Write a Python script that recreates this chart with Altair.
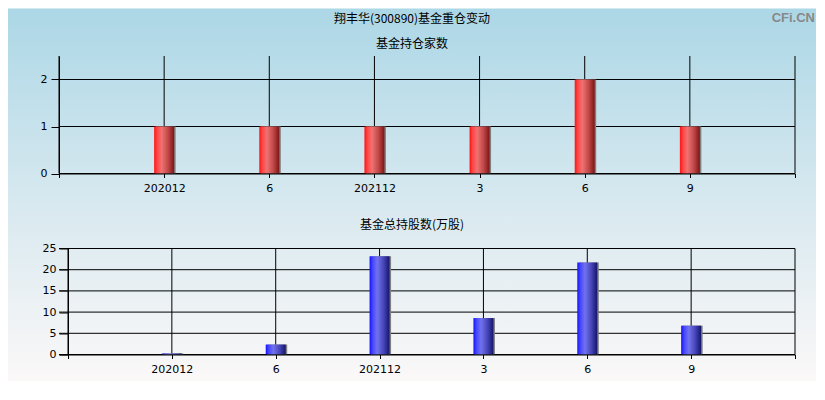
import json
import altair as alt
import pandas as pd

# ---- data ----
periods = ["202012", "6", "202112", "3", "6", "9"]
slot = [1, 2, 3, 4, 5, 6]
fund_counts = [1, 1, 1, 1, 2, 1]
fund_shares = [0.25, 2.35, 23.2, 8.6, 21.7, 6.8]
top_ticks = [0, 1, 2]
bottom_ticks = [0, 5, 10, 15, 20, 25]

main_title = "翔丰华(300890)基金重仓变动"
top_title = "基金持仓家数"
bottom_title = "基金总持股数(万股)"
watermark = "CFi.CN"

df = pd.DataFrame({"slot": slot, "period": periods,
                   "count": fund_counts, "shares": fund_shares})

label_expr = json.dumps([""] + periods + [""]) + "[datum.value]"
tick_vals = list(range(len(periods) + 2))
vgrid = pd.DataFrame({"slot": tick_vals})
hgrid_top = pd.DataFrame({"count": top_ticks})
hgrid_bot = pd.DataFrame({"shares": bottom_ticks})

W = 736
H1 = 117.5
H2 = 106
SP = 74.5
CJK = "Noto Sans CJK SC"

bg_grad = alt.Gradient(
    gradient="linear", x1=0, y1=0, x2=0, y2=1,
    stops=[alt.GradientStop(color="#acd7e6", offset=0),
           alt.GradientStop(color="#d6e8ef", offset=0.5),
           alt.GradientStop(color="#fbf8f8", offset=1)])

red_grad = alt.Gradient(
    gradient="linear", x1=0, y1=0, x2=1, y2=0,
    stops=[alt.GradientStop(color="#ff1212", offset=0),
           alt.GradientStop(color="#ff4545", offset=0.15),
           alt.GradientStop(color="#f07272", offset=0.38),
           alt.GradientStop(color="#c04848", offset=0.7),
           alt.GradientStop(color="#7e1414", offset=1)])

blue_grad = alt.Gradient(
    gradient="linear", x1=0, y1=0, x2=1, y2=0,
    stops=[alt.GradientStop(color="#1212ff", offset=0),
           alt.GradientStop(color="#4545ff", offset=0.15),
           alt.GradientStop(color="#7272ee", offset=0.38),
           alt.GradientStop(color="#4646b8", offset=0.7),
           alt.GradientStop(color="#14146e", offset=1)])

one = pd.DataFrame({"k": [0]})

# ---------------- top panel ----------------
x_top = alt.X("slot:Q",
              scale=alt.Scale(domain=[0, 7], nice=False, zero=False, padding=0),
              axis=alt.Axis(values=tick_vals, grid=False, tickSize=4,
                            labelPadding=5, labelExpr=label_expr, zindex=2,
                            labelOverlap=False, labelFlush=False, title=None))
y_top = alt.Y("count:Q",
              scale=alt.Scale(domain=[0, 2.5], nice=False, padding=0),
              axis=alt.Axis(values=top_ticks, grid=False, tickSize=8, zindex=2,
                            labelPadding=4, format="d", title=None))

bg = alt.Chart(one).mark_rect(fill=bg_grad).encode(
    x=alt.value(-51), x2=alt.value(757), y=alt.value(-47.5), y2=alt.value(325))

top_v = alt.Chart(vgrid).mark_rule(color="black", strokeWidth=1).encode(x=x_top)
top_h = alt.Chart(hgrid_top).mark_rule(color="black", strokeWidth=1).encode(y=y_top)

top_shadow = alt.Chart(df).mark_bar(width=20, xOffset=1.5, color="#7f7f7f").encode(
    x=x_top, y=y_top)
top_bars = alt.Chart(df).mark_bar(width=20, fill=red_grad).encode(
    x=x_top, y=y_top)

t_main = alt.Chart(pd.DataFrame({"t": [main_title]})).mark_text(
    font=CJK, fontSize=12, color="black", baseline="middle", align="center").encode(
    text="t:N", x=alt.value(353), y=alt.value(-37.5))
t_top = alt.Chart(pd.DataFrame({"t": [top_title]})).mark_text(
    font=CJK, fontSize=12, color="black", baseline="middle", align="center").encode(
    text="t:N", x=alt.value(353), y=alt.value(-12.5))
t_wm = alt.Chart(pd.DataFrame({"t": [watermark]})).mark_text(
    font="Liberation Sans", fontSize=13, fontWeight="bold", color="#888888",
    baseline="middle", align="right").encode(
    text="t:N", x=alt.value(756), y=alt.value(-38))

top = alt.layer(bg, top_v, top_h, top_shadow, top_bars, t_main, t_top, t_wm).properties(
    width=W, height=H1)

# ---------------- bottom panel ----------------
left_shift = 9
xmin = -left_shift * 7 / (W - left_shift)
x_bot = alt.X("slot:Q",
              scale=alt.Scale(domain=[xmin, 7], nice=False, zero=False, padding=0),
              axis=alt.Axis(values=tick_vals, grid=False, tickSize=4,
                            labelPadding=5, labelExpr=label_expr, zindex=2,
                            labelOverlap=False, labelFlush=False, title=None))
y_bot = alt.Y("shares:Q",
              scale=alt.Scale(domain=[0, 25], nice=False, padding=0),
              axis=alt.Axis(values=bottom_ticks, grid=False, tickSize=9, zindex=2,
                            labelPadding=3, offset=-left_shift, format="d",
                            title=None))

bot_v = alt.Chart(vgrid).mark_rule(color="black", strokeWidth=1).encode(x=x_bot)
bot_h = alt.Chart(hgrid_bot).mark_rule(color="black", strokeWidth=1).encode(y=y_bot)
bot_shadow = alt.Chart(df).mark_bar(width=20, xOffset=1.5, color="#7f7f7f").encode(
    x=x_bot, y=y_bot)
bot_bars = alt.Chart(df).mark_bar(width=20, fill=blue_grad).encode(
    x=x_bot, y=y_bot)
t_bot = alt.Chart(pd.DataFrame({"t": [bottom_title]})).mark_text(
    font=CJK, fontSize=12, color="black", baseline="middle", align="center").encode(
    text="t:N", x=alt.value(353), y=alt.value(-23.5))

bottom = alt.layer(bot_v, bot_h, bot_shadow, bot_bars, t_bot).properties(
    width=W, height=H2)

chart = alt.vconcat(top, bottom, spacing=SP, bounds="flush").properties(
    padding=0
).configure_view(stroke=None).configure_axis(
    labelFont="DejaVu Sans", labelFontSize=11, labelColor="black",
    domainColor="black", tickColor="black",
    domainWidth=1, tickWidth=1
)

chart.save("out.html", embed_options={"renderer": "svg", "actions": False})
